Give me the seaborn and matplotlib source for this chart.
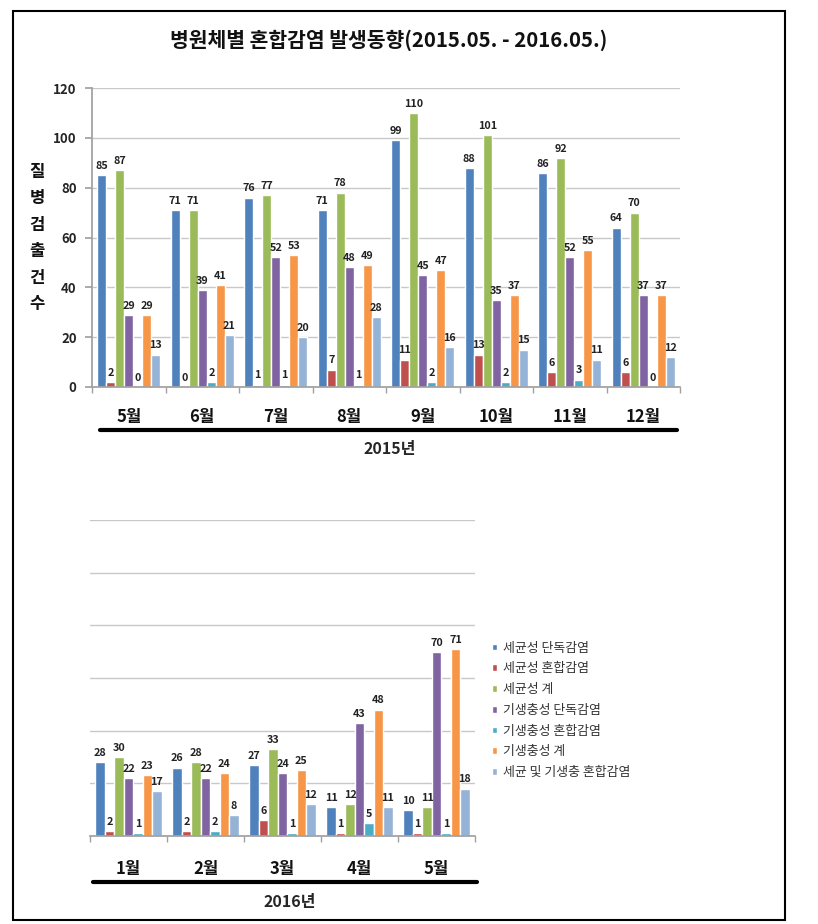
import numpy as np
import pandas as pd
import matplotlib
matplotlib.use("Agg")
import matplotlib.pyplot as plt
import seaborn as sns
from matplotlib.lines import Line2D
from matplotlib.patches import Rectangle

# ---------------- data ----------------
series_names = ["세균성 단독감염", "세균성 혼합감염", "세균성 계",
                "기생충성 단독감염", "기생충성 혼합감염", "기생충성 계",
                "세균 및 기생충 혼합감염"]
colors = ["#4F81BD", "#C0504D", "#9BBB59", "#8064A2", "#4BACC6", "#F79646", "#95B3D7"]

months_2015 = ["5월", "6월", "7월", "8월", "9월", "10월", "11월", "12월"]
bact_single_2015 = [85, 71, 76, 71, 99, 88, 86, 64]
bact_mixed_2015 = [2, 0, 1, 7, 11, 13, 6, 6]
bact_total_2015 = [87, 71, 77, 78, 110, 101, 92, 70]
para_single_2015 = [29, 39, 52, 48, 45, 35, 52, 37]
para_mixed_2015 = [0, 2, 1, 1, 2, 2, 3, 0]
para_total_2015 = [29, 41, 53, 49, 47, 37, 55, 37]
both_mixed_2015 = [13, 21, 20, 28, 16, 15, 11, 12]

months_2016 = ["1월", "2월", "3월", "4월", "5월"]
bact_single_2016 = [28, 26, 27, 11, 10]
bact_mixed_2016 = [2, 2, 6, 1, 1]
bact_total_2016 = [30, 28, 33, 12, 11]
para_single_2016 = [22, 22, 24, 43, 70]
para_mixed_2016 = [1, 2, 1, 5, 1]
para_total_2016 = [23, 24, 25, 48, 71]
both_mixed_2016 = [17, 8, 12, 11, 18]

yticks = [0, 20, 40, 60, 80, 100, 120]
title = "병원체별 혼합감염 발생동향(2015.05. - 2016.05.)"
ylabel = "질병검출건수"


def to_long(months, cols):
    rows = []
    for name, vals in zip(series_names, cols):
        for m, v in zip(months, vals):
            rows.append({"month": m, "series": name, "value": v})
    return pd.DataFrame(rows)


df2015 = to_long(months_2015, [bact_single_2015, bact_mixed_2015, bact_total_2015,
                               para_single_2015, para_mixed_2015, para_total_2015,
                               both_mixed_2015])
df2016 = to_long(months_2016, [bact_single_2016, bact_mixed_2016, bact_total_2016,
                               para_single_2016, para_mixed_2016, para_total_2016,
                               both_mixed_2016])

sns.set_theme(style="white")
plt.rcParams["font.family"] = ["Noto Sans CJK KR", "DejaVu Sans"]

W, H = 818, 924
fig = plt.figure(figsize=(W / 100, H / 100), dpi=100)


def fx(x):
    return x / W


def fy(y):
    return 1 - y / H


ax1 = fig.add_axes([fx(92), fy(387), fx(680) - fx(92), fy(88) - fy(387)])
ax2 = fig.add_axes([fx(90), fy(836), fx(475) - fx(90), fy(520) - fy(836)])

for ax, df, months, show_y in [(ax1, df2015, months_2015, True), (ax2, df2016, months_2016, False)]:
    sns.barplot(data=df, x="month", y="value", hue="series", hue_order=series_names,
                order=months, palette=colors, width=0.86, saturation=1,
                ax=ax, legend=(ax is ax2), errorbar=None)
    for cont in ax.containers:
        ax.bar_label(cont, fontsize=7.8, fontweight="bold", padding=3, color="#222222")
    ax.set_ylim(0, 120)
    ax.set_xlim(-0.5, len(months) - 0.5)
    ax.set_yticks(yticks)
    ax.grid(axis="y", color="#c8c8c8", linewidth=1)
    ax.set_axisbelow(True)
    ax.set_xlabel("")
    ax.set_ylabel("")
    for s in ["top", "right"]:
        ax.spines[s].set_visible(False)
    ax.spines["bottom"].set_color("#a0a0a0")
    ax.set_xticks(np.arange(len(months)))
    ax.set_xticklabels(months, fontsize=12, fontweight="bold", color="#111111")
    ax.set_xticks(np.arange(len(months) + 1) - 0.5, minor=True)
    ax.tick_params(axis="x", which="major", length=0, pad=15 if show_y else 17)
    ax.tick_params(axis="x", which="minor", length=4, color="#a0a0a0", direction="out", bottom=True)
    if show_y:
        ax.spines["left"].set_color("#a0a0a0")
        ax.tick_params(axis="y", length=5, color="#a0a0a0", direction="out", left=True,
                       labelsize=9.5, pad=6)
        for t in ax.get_yticklabels():
            t.set_fontweight("bold")
    else:
        ax.spines["left"].set_visible(False)
        ax.tick_params(axis="y", left=False, labelleft=False)

# legend
handles, labels = ax2.get_legend_handles_labels()
ax2.get_legend().remove()
fig.legend(handles, labels, loc="upper left", bbox_to_anchor=(fx(480), fy(630)),
           frameon=False, fontsize=9.3, handlelength=0.45, handleheight=0.45,
           handletextpad=0.4, labelspacing=0.6, labelcolor="#333333")

# title and y label
fig.text(fx(389), fy(40), title, ha="center", va="center", fontsize=14.7, fontweight="bold",
         color="#111111")
fig.text(fx(37), fy(238), "\n".join(ylabel), ha="center", va="center", fontsize=12,
         fontweight="bold", linespacing=1.6, color="#111111")

# year underline and labels
fig.add_artist(Line2D([fx(100), fx(677)], [fy(430), fy(430)], color="black", linewidth=3))
fig.text(fx(390), fy(449), "2015년", ha="center", va="center", fontsize=11.5, fontweight="bold")
fig.add_artist(Line2D([fx(93), fx(477)], [fy(882), fy(882)], color="black", linewidth=3))
fig.text(fx(290), fy(902), "2016년", ha="center", va="center", fontsize=11.5, fontweight="bold")

# outer frame
fig.add_artist(Rectangle((fx(13), fy(920)), fx(785) - fx(13), fy(11) - fy(920),
                         fill=False, edgecolor="black", linewidth=1.5,
                         transform=fig.transFigure))

fig.savefig("out.png", dpi=100)
